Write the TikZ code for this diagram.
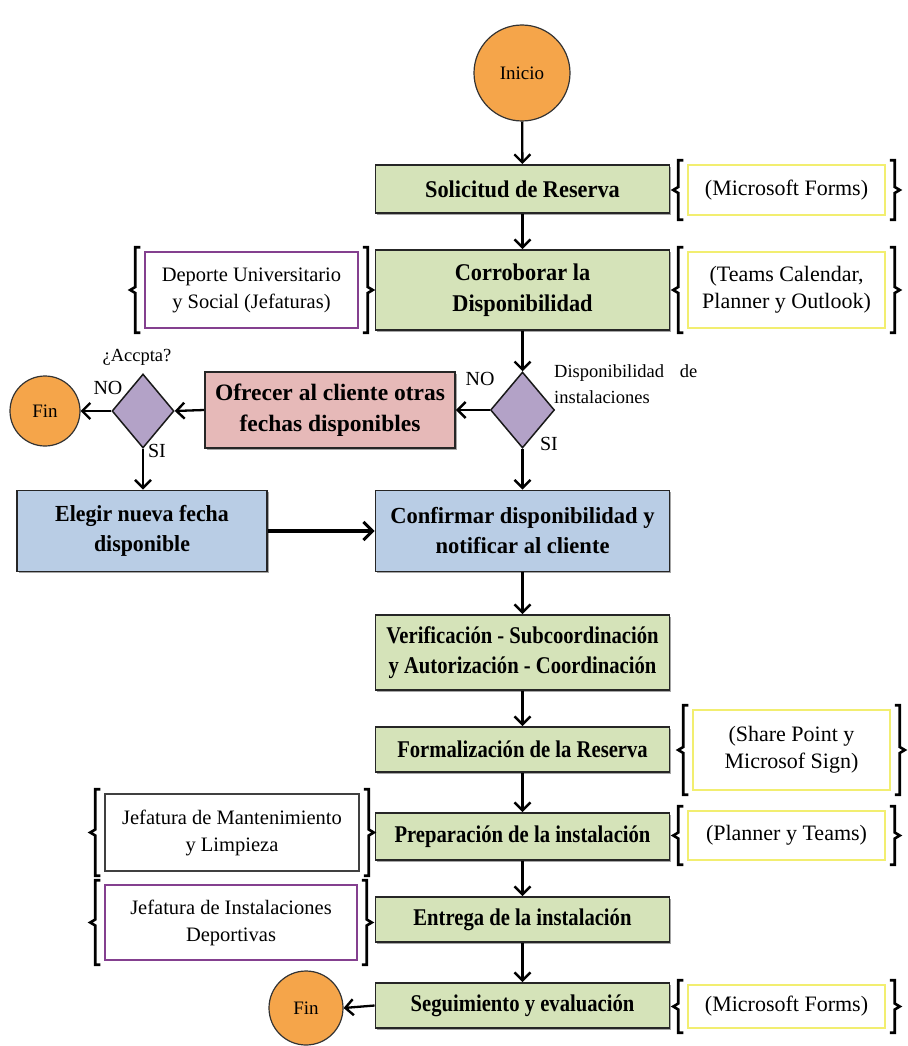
\documentclass[tikz,border=0pt]{standalone}
\usepackage{fontspec}
\setmainfont{Liberation Serif}
\newfontfamily\bxfont[FakeStretch=0.86]{Liberation Serif}
\newfontfamily\bxfonta[FakeStretch=0.93]{Liberation Serif}
\newfontfamily\bxfontw[FakeStretch=0.95]{Liberation Serif}
\newfontfamily\bxfontc[FakeStretch=0.98]{Liberation Serif}
\usetikzlibrary{arrows.meta,shapes.geometric,shadows}
\definecolor{grn}{HTML}{D5E3B9}
\definecolor{blu}{HTML}{B9CDE5}
\definecolor{pnk}{HTML}{E6B9B8}
\definecolor{dia}{HTML}{B3A2C7}
\definecolor{org}{HTML}{F5A54A}
\definecolor{ylw}{HTML}{F2EE70}
\definecolor{prp}{HTML}{84408F}
\newcommand\mybrL[1]{\draw[brk] ([xshift=-4pt,yshift=4pt]#1.north west) -- ([xshift=-9pt,yshift=4pt]#1.north west) -- ([xshift=-9pt,yshift=3pt]#1.west) -- ([xshift=-14pt]#1.west) -- ([xshift=-9pt,yshift=-3pt]#1.west) -- ([xshift=-9pt,yshift=-4pt]#1.south west) -- ([xshift=-4pt,yshift=-4pt]#1.south west);}
\newcommand\mybrR[1]{\draw[brk] ([xshift=4pt,yshift=4pt]#1.north east) -- ([xshift=9pt,yshift=4pt]#1.north east) -- ([xshift=9pt,yshift=3pt]#1.east) -- ([xshift=14pt]#1.east) -- ([xshift=9pt,yshift=-3pt]#1.east) -- ([xshift=9pt,yshift=-4pt]#1.south east) -- ([xshift=4pt,yshift=-4pt]#1.south east);}
\begin{document}
\begin{tikzpicture}[x=1pt,y=-1pt,
  shd/.style={drop shadow={shadow xshift=1.5pt,shadow yshift=-1.5pt,opacity=0.35,fill=black}},
  gbox/.style={rectangle,draw=black!85,line width=1.9pt,fill=grn,shd,minimum width=294,inner sep=0pt,align=center,font=\bxfont\bfseries\fontsize{24}{30}\selectfont},
  bbox/.style={rectangle,draw=black!85,line width=1.9pt,fill=blu,shd,minimum height=81,inner sep=0pt,align=center,font=\bxfontw\bfseries\fontsize{23}{30}\selectfont},
  rbox/.style={bbox,fill=pnk,font=\bfseries\fontsize{23.5}{31}\selectfont},
  ybox/.style={rectangle,draw=ylw,line width=1.5pt,fill=white,minimum width=197,inner sep=0pt,align=center,font=\fontsize{22}{27}\selectfont},
  lbox/.style={rectangle,draw=#1,line width=1.5pt,fill=white,inner sep=0pt,align=center,font=\fontsize{20.5}{27}\selectfont},
  circ/.style={circle,draw=black!80,line width=1.2pt,fill=org,inner sep=0pt,font=\fontsize{19}{22}\selectfont},
  dmd/.style={diamond,draw=black!90,line width=1.5pt,fill=dia,inner sep=0pt},
  arr/.style={-{Straight Barb[length=8pt,width=16pt,line width=2.4pt]},line width=2.3pt},
  thk/.style={-{Straight Barb[length=9pt,width=18pt,line width=3pt]},line width=4.5pt},
  brk/.style={line width=2.6pt,black,line join=miter},
  lbl/.style={inner sep=0pt,font=\fontsize{20}{24}\selectfont},
  sml/.style={inner sep=0pt,font=\fontsize{18.5}{22}\selectfont}]
\useasboundingbox (0,0) rectangle (907,1046);
\fill[white] (0,0) rectangle (907,1046);

% main column
\node[circ,minimum size=96] (ini) at (522,73) {Inicio};
\node[gbox,minimum height=48,font=\bxfonta\bfseries\fontsize{24}{30}\selectfont] (sol) at (522.5,189) {Solicitud de Reserva};
\node[gbox,minimum height=80,font=\bxfonta\bfseries\fontsize{24}{31}\selectfont] (cor) at (522.5,290) {Corroborar la\\Disponibilidad};
\node[dmd,minimum width=64,minimum height=76] (d1) at (522.5,410) {};
\node[rbox,minimum width=250,minimum height=76] (ofr) at (330,410) {Ofrecer al cliente otras\\fechas disponibles};
\node[dmd,minimum width=62,minimum height=74] (d2) at (143,411) {};
\node[circ,minimum size=70] (fin1) at (45,411) {Fin};
\node[bbox,minimum width=250] (ele) at (142,531) {Elegir nueva fecha\\disponible};
\node[bbox,minimum width=294,font=\bxfontc\bfseries\fontsize{23}{30}\selectfont] (con) at (522.5,531) {Confirmar disponibilidad y\\notificar al cliente};
\node[gbox,minimum height=75] (ver) at (522.5,652.5) {Verificación - Subcoordinación\\y Autorización - Coordinación};
\node[gbox,minimum height=45] (frm) at (522.5,749.5) {Formalización de la Reserva};
\node[gbox,minimum height=47] (pre) at (522.5,836.5) {Preparación de la instalación};
\node[gbox,minimum height=45] (ent) at (522.5,919.5) {Entrega de la instalación};
\node[gbox,minimum height=45] (seg) at (522.5,1005.5) {Seguimiento y evaluación};
\node[circ,minimum size=74] (fin2) at (306,1008) {Fin};

% side boxes
\node[ybox,minimum height=50] (mf1) at (786.5,190) {(Microsoft Forms)};
\node[ybox,minimum height=76] (tea) at (786.5,290) {(Teams Calendar,\\Planner y Outlook)};
\node[lbox=prp,minimum width=213,minimum height=76] (dep) at (251.5,290) {Deporte Universitario\\y Social (Jefaturas)};
\node[ybox,minimum height=80] (shp) at (791.5,750) {(Share Point y\\Microsof Sign)};
\node[ybox,minimum height=49] (plt) at (786.5,835.5) {(Planner y Teams)};
\node[lbox=black!75,minimum width=254,minimum height=77] (jm) at (232,832.5) {Jefatura de Mantenimiento\\y Limpieza};
\node[lbox=prp,minimum width=252,minimum height=75] (ji) at (231,922.5) {Jefatura de Instalaciones\\Deportivas};
\node[ybox,minimum height=43] (mf2) at (786.5,1006.5) {(Microsoft Forms)};

\foreach \n in {mf1,tea,dep,shp,plt,jm,ji,mf2}{\mybrL{\n}\mybrR{\n}}

% labels
\node[sml,anchor=base west] (ld1) at (554,377) {\hbox to 143pt{Disponibilidad\hfill de}};
\node[sml,anchor=base west] (ld2) at (554,403) {instalaciones};
\node[lbl] (no1) at (480,379) {NO};
\node[lbl] (si1) at (549,444) {SI};
\node[sml] (acc) at (137,357) {¿Accpta?};
\node[lbl] (no2) at (108,388) {NO};
\node[lbl] (si2) at (157,451) {SI};

% connectors
\draw[arr] (ini) -- (sol);
\draw[arr] (sol) -- (cor);
\draw[arr] (cor) -- (d1.north);
\draw[arr] (d1.west) -- (ofr.east);
\draw[arr] (ofr.west) -- (d2.east);
\draw[arr] (d2.west) -- (fin1.east);
\draw[arr] (d2.south) -- (d2.south |- ele.north);
\draw[arr] (d1.south) -- (con.north);
\draw[thk] (ele.east) -- (con.west);
\draw[arr] (con) -- (ver);
\draw[arr] (ver) -- (frm);
\draw[arr] (frm) -- (pre);
\draw[arr] (pre) -- (ent);
\draw[arr] (ent) -- (seg);
\draw[arr] (seg.west) -- (fin2.east);
\end{tikzpicture}
\end{document}
